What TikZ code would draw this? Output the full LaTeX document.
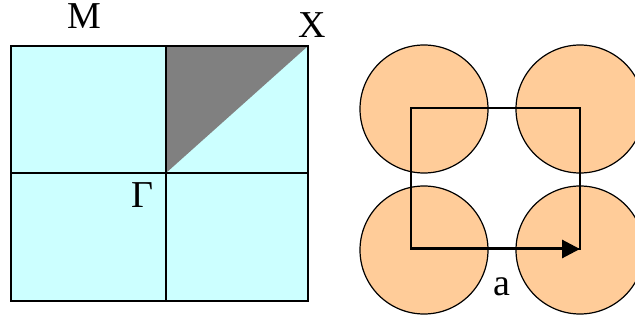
\documentclass[tikz,border=0pt]{standalone}
\usepackage{fontspec}
\setmainfont{Liberation Serif}
\usetikzlibrary{arrows.meta}
\definecolor{BZCyan}{HTML}{CCFFFF}
\definecolor{BZGrey}{HTML}{808080}
\definecolor{BZPeach}{HTML}{FFCC99}

\begin{document}
\begin{tikzpicture}[x=1pt,y=-1pt,
    zone/.style={draw=black,line width=1.4pt},
    atom/.style={circle,draw=black,fill=BZPeach,line width=1.2pt,
      minimum size=128pt,inner sep=0pt},
    tag/.style={anchor=base,inner sep=0pt,font=\fontsize{38}{44}\selectfont},
    arrow/.style={-{Triangle[length=18pt,width=18pt]},line width=3pt}
  ]
    \useasboundingbox (0,0) rectangle (635,323);
    % Brillouin zone
    \coordinate (zsw) at (11,301);
    \coordinate (zne) at (308,46);
    \coordinate (G) at (166,173);
    \fill[BZCyan] (zsw) rectangle (zne);
    \fill[BZGrey] (G) -- (166,46) -- (zne) -- cycle;
    \draw[zone] (zsw) rectangle (zne);
    \draw[zone] (166,46) -- (166,301);
    \draw[zone] (11,173) -- (308,173);
    \node[tag] (M) at (84,29) {M};
    \node[tag] (X) at (312,38) {X};
    \node[tag] (Gamma) at (142,208) {Γ};
    % square lattice
    \node[atom] (a11) at (424,109) {};
    \node[atom] (a12) at (580,109) {};
    \node[atom] (a21) at (424,250) {};
    \node[atom] (a22) at (580,250) {};
    \coordinate (o) at (411,249);
    \coordinate (e) at (580,249);
    \draw[line width=1.3pt] (o) rectangle (580,108);
    \draw[arrow] (o) -- (e);
    \node[tag] (a) at (502,296) {a};
  \end{tikzpicture}
\end{document}
